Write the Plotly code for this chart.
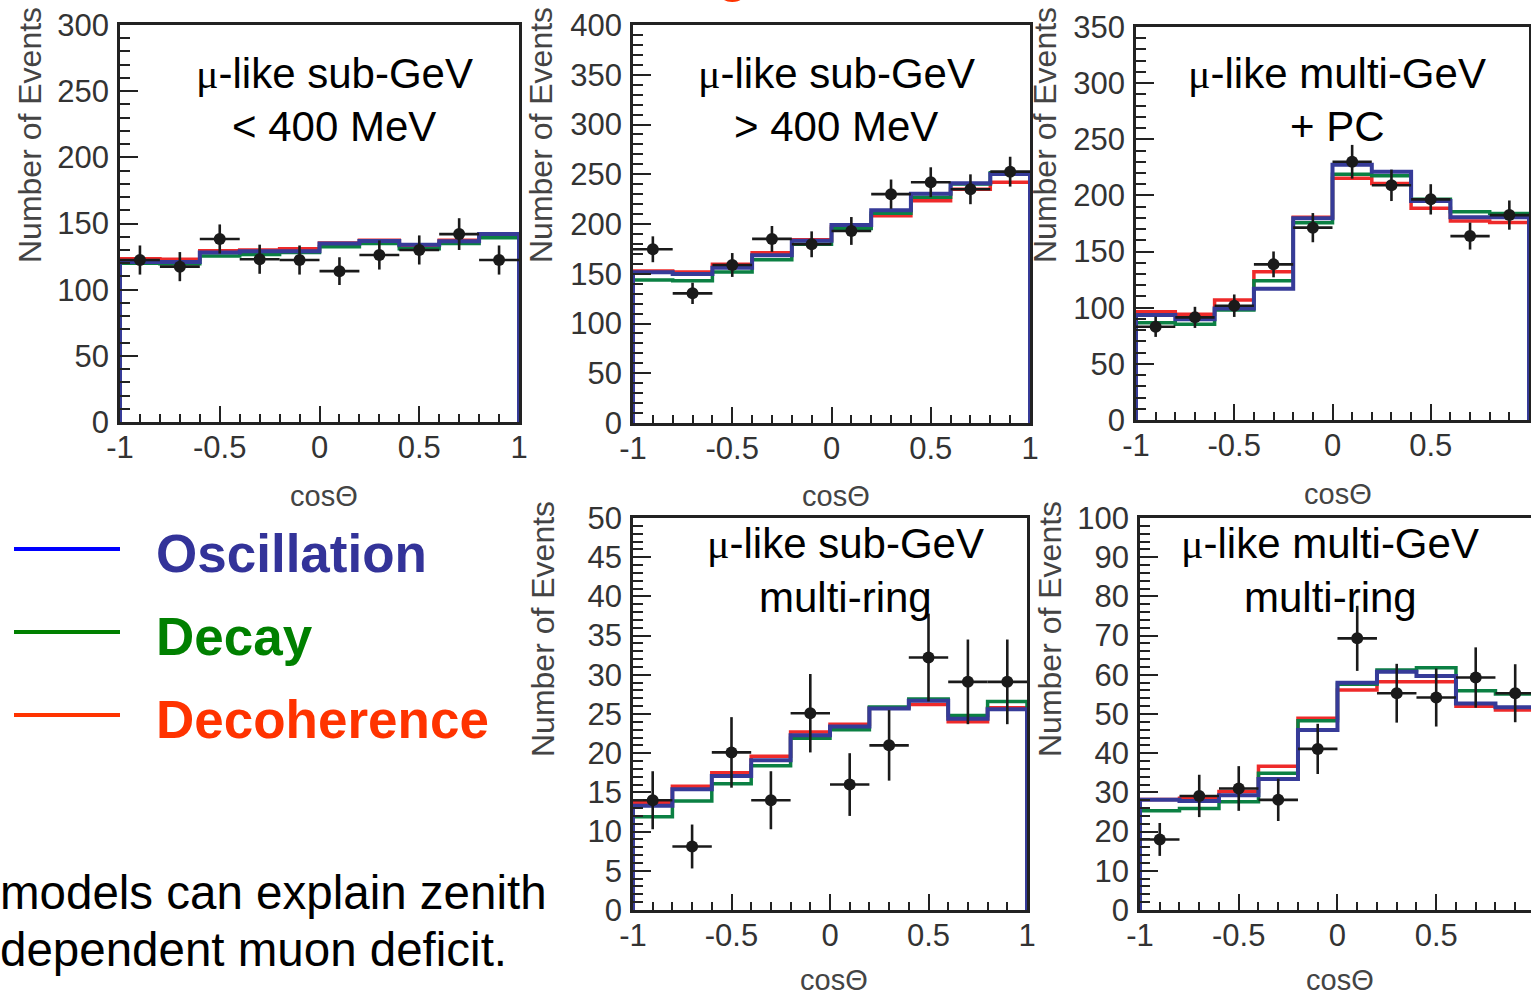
import plotly.graph_objects as go

W, H = 1531, 998

# ---------------- data ----------------
bin_edges = [-1.0, -0.8, -0.6, -0.4, -0.2, 0.0, 0.2, 0.4, 0.6, 0.8, 1.0]
bin_centers = [-0.9, -0.7, -0.5, -0.3, -0.1, 0.1, 0.3, 0.5, 0.7, 0.9]
bin_halfwidth = [0.1] * 10

# panel 1: mu-like sub-GeV < 400 MeV
p1_osc = [121, 121, 128, 129, 129, 134.8, 136.8, 134, 136.6, 142]
p1_dec = [120, 119.5, 125.5, 126.5, 128, 132.5, 134.8, 131, 134.8, 139.3]
p1_dcoh = [123.4, 123, 129.5, 130, 131, 135.3, 137.3, 133, 137.3, 141.8]
p1_data = [122.4, 117.4, 138.3, 123, 122.4, 114, 126.2, 130, 142, 122.4]
p1_err = [11, 11, 11, 11, 11, 10.5, 11, 11, 12, 11]

# panel 2: mu-like sub-GeV > 400 MeV
p2_osc = [151.5, 149.7, 156, 168.5, 183.2, 199, 213.8, 230.5, 240.9, 250.3]
p2_dec = [143.7, 143, 151.8, 164, 179.6, 195.6, 210.7, 226.8, 240.2, 251.6]
p2_dcoh = [152.8, 151.8, 159.5, 171, 184.2, 197.3, 208.4, 223.4, 234.8, 241.9]
p2_data = [174.6, 130.3, 158.8, 185, 179.6, 193, 230, 242, 234.9, 252.6]
p2_err = [13, 10.7, 12, 13, 13, 14, 14.7, 15, 15, 15]

# panel 3: mu-like multi-GeV + PC
p3_osc = [93.5, 89.7, 99.4, 117, 179.6, 227.4, 221.1, 195, 180.5, 180.5]
p3_dec = [86.7, 85.2, 98, 124, 175.7, 218.8, 217.6, 196.5, 185.5, 184]
p3_dcoh = [96.5, 94.1, 106.9, 132, 180.5, 215.2, 210.7, 188.5, 177.2, 176]
p3_data = [83, 91.4, 101.8, 138.6, 171.3, 230, 209, 196.5, 163.8, 182.5]
p3_err = [9, 9.4, 10, 11.5, 13, 15, 14, 13.5, 12, 13]

# panel 4: mu-like sub-GeV multi-ring
p4_osc = [13.3, 15.4, 17.1, 19.1, 22.3, 23.4, 25.7, 26.7, 24.4, 25.6]
p4_dec = [11.9, 13.9, 16.1, 18.4, 21.9, 23.0, 25.9, 26.9, 24.8, 26.6]
p4_dcoh = [13.7, 15.8, 17.5, 19.6, 22.7, 23.7, 25.8, 26.2, 24.0, 25.8]
p4_data = [14.0, 8.1, 20.1, 14.0, 25.1, 16.0, 21.0, 32.2, 29.1, 29.1]
p4_err = [3.7, 2.8, 4.5, 3.7, 5.0, 4.0, 4.5, 5.6, 5.4, 5.4]

# panel 5: mu-like multi-GeV multi-ring
p5_osc = [28.1, 27.8, 29.3, 33.4, 45.9, 58.0, 60.8, 59.7, 52.7, 51.7]
p5_dec = [25.3, 25.9, 27.6, 34.9, 48.3, 57.6, 61.2, 61.8, 55.9, 55.1]
p5_dcoh = [28.2, 28.5, 30.2, 36.7, 48.9, 56.1, 58.2, 58.2, 52.0, 51.0]
p5_data = [18.0, 29.1, 31.0, 28.1, 41.1, 69.3, 55.3, 54.2, 59.3, 55.3]
p5_err = [4.2, 5.4, 5.7, 5.4, 6.4, 8.3, 7.5, 7.4, 7.7, 7.4]

x_tickvals = [-1, -0.5, 0, 0.5, 1]
x_ticktext = ["-1", "-0.5", "0", "0.5", "1"]

titles_line1 = ["μ-like sub-GeV", "μ-like sub-GeV", "μ-like multi-GeV",
                "μ-like sub-GeV", "μ-like multi-GeV"]
titles_line2 = ["< 400 MeV", "> 400 MeV", "+ PC", "multi-ring", "multi-ring"]

legend_names = ["Oscillation", "Decay", "Decoherence"]
note_lines = ["models can explain zenith", "dependent muon deficit."]

# ---------------- style ----------------
HIST_COLORS = {"dcoh": "#ee2a2a", "dec": "#0b8043", "osc": "#363b98"}
LEG_LINE = ["#0000ff", "#008000", "#ff3300"]
LEG_TEXT = ["#333399", "#008000", "#ff3300"]
TICKFONT = dict(family="Liberation Sans, Arial, sans-serif", size=31, color="#333333")
TITLEFONT = dict(family="Liberation Sans Narrow, Liberation Sans, Arial, sans-serif", size=42, color="#000000")


def px_x(p):
    return p / W


def px_y(p):
    return 1 - p / H


# pixel boxes: (left, right, top, bottom)
panels = [
    dict(box=(120, 519, 25, 422), ymax=300, dtick=50, minor=10,
         osc=p1_osc, dec=p1_dec, dcoh=p1_dcoh, data=p1_data, err=p1_err,
         title_c=(334, 73, 126), ylab=(30, 135), xlab=(324, 496), xr=[-1, 1], ymirror=True),
    dict(box=(633, 1030, 25, 423), ymax=400, dtick=50, minor=10,
         osc=p2_osc, dec=p2_dec, dcoh=p2_dcoh, data=p2_data, err=p2_err,
         title_c=(836, 73, 126), ylab=(541, 135), xlab=(836, 496), xr=[-1, 1], ymirror=True),
    dict(box=(1136, 1529, 27, 420), ymax=350, dtick=50, minor=10,
         osc=p3_osc, dec=p3_dec, dcoh=p3_dcoh, data=p3_data, err=p3_err,
         title_c=(1337, 73, 126), ylab=(1045, 135), xlab=(1338, 494), xr=[-1, 1], ymirror=True),
    dict(box=(633, 1027, 518, 910), ymax=50, dtick=5, minor=1,
         osc=p4_osc, dec=p4_dec, dcoh=p4_dcoh, data=p4_data, err=p4_err,
         title_c=(846, 543, 597), ylab=(543, 629), xlab=(834, 980), xr=[-1, 1], ymirror=True),
    dict(box=(1140, 1531, 518, 910), ymax=100, dtick=10, minor=2,
         osc=p5_osc, dec=p5_dec, dcoh=p5_dcoh, data=p5_data, err=p5_err,
         title_c=(1330, 543, 597), ylab=(1050, 629), xlab=(1340, 980), xr=[-1, 0.98], ymirror=False),
]

fig = go.Figure()


def step_xy(values):
    xs = [bin_edges[0]] + bin_edges[:-1] + [bin_edges[-1], bin_edges[-1]]
    ys = [0] + list(values) + [values[-1], 0]
    return xs, ys


annotations = []
for i, p in enumerate(panels):
    n = i + 1
    xa = "x" if n == 1 else f"x{n}"
    ya = "y" if n == 1 else f"y{n}"
    for key, width in (("dcoh", 3.5), ("dec", 3.5), ("osc", 4)):
        xs, ys = step_xy(p[key])
        fig.add_trace(go.Scatter(x=xs, y=ys, mode="lines", line_shape="hv",
                                 line=dict(color=HIST_COLORS[key], width=width),
                                 xaxis=xa, yaxis=ya, showlegend=False, hoverinfo="skip"))
    fig.add_trace(go.Scatter(
        x=bin_centers, y=p["data"], mode="markers",
        marker=dict(color="#1a1a1a", size=12),
        error_y=dict(type="data", array=p["err"], width=0, thickness=2.6, color="#1a1a1a"),
        error_x=dict(type="data", array=bin_halfwidth, width=0, thickness=2.6, color="#1a1a1a"),
        xaxis=xa, yaxis=ya, showlegend=False))

    l, r, t, b = p["box"]
    axis_common = dict(showgrid=False, zeroline=False, showline=True, linecolor="#222222",
                       linewidth=2.5, ticks="inside", tickcolor="#222222", tickwidth=1.5,
                       tickfont=TICKFONT, automargin=False)
    fig.layout[f"xaxis{'' if n == 1 else n}"] = dict(
        axis_common, domain=[px_x(l), min(1.0, px_x(r))], range=p["xr"], anchor=ya,
        tickvals=x_tickvals, ticktext=x_ticktext, ticklen=16, mirror=True,
        minor=dict(tick0=-1, dtick=0.1, ticks="inside", ticklen=8, tickcolor="#222222", tickwidth=1.5),
        ticklabelstandoff=-4)
    fig.layout[f"yaxis{'' if n == 1 else n}"] = dict(
        axis_common, domain=[px_y(b), px_y(t)], range=[0, p["ymax"]], anchor=xa,
        tick0=0, dtick=p["dtick"], ticklen=18, mirror=p["ymirror"],
        minor=dict(tick0=0, dtick=p["minor"], ticks="inside", ticklen=10, tickcolor="#222222", tickwidth=1.5),
        ticklabelstandoff=2)

    cx, y1, y2 = p["title_c"]
    t1 = titles_line1[i].replace("μ", '<span style="font-family:Liberation Serif">μ</span>')
    annotations.append(dict(x=px_x(cx), y=px_y(y1), xref="paper", yref="paper", text=t1,
                            showarrow=False, font=TITLEFONT, xanchor="center", yanchor="middle"))
    annotations.append(dict(x=px_x(cx), y=px_y(y2), xref="paper", yref="paper", text=titles_line2[i],
                            showarrow=False, font=TITLEFONT, xanchor="center", yanchor="middle"))
    annotations.append(dict(x=px_x(p["ylab"][0]), y=px_y(p["ylab"][1]), xref="paper", yref="paper",
                            text="Number of Events", textangle=-90, showarrow=False,
                            font=dict(family="Liberation Sans, Arial", size=32, color="#444444"),
                            xanchor="center", yanchor="middle"))
    annotations.append(dict(x=px_x(p["xlab"][0]), y=px_y(p["xlab"][1]), xref="paper", yref="paper",
                            text="cosΘ", showarrow=False,
                            font=dict(family="Liberation Sans, Arial", size=29, color="#444444"),
                            xanchor="center", yanchor="middle"))

# legend (lines + labels)
shapes = []
leg_y = [549, 632, 715]
for name, lc, tc, yy in zip(legend_names, LEG_LINE, LEG_TEXT, leg_y):
    shapes.append(dict(type="line", xref="paper", yref="paper", x0=px_x(14), x1=px_x(120),
                       y0=px_y(yy), y1=px_y(yy), line=dict(color=lc, width=4)))
    annotations.append(dict(x=px_x(154), y=px_y(yy + 4), xref="paper", yref="paper", text=f"<b>{name}</b>",
                            showarrow=False, xanchor="left", yanchor="middle",
                            font=dict(family="Liberation Sans, Arial", size=53, color=tc)))

for line, yy in zip(note_lines, [892, 949]):
    annotations.append(dict(x=px_x(-2), y=px_y(yy), xref="paper", yref="paper", text=line,
                            showarrow=False, xanchor="left", yanchor="middle",
                            font=dict(family="Liberation Sans, Arial", size=47.5, color="#000000")))

# clipped slide-title fragment at the very top
annotations.append(dict(x=px_x(733), y=px_y(4), xref="paper", yref="paper", text="<b>g</b>",
                        showarrow=False, xanchor="center", yanchor="bottom",
                        font=dict(family="Liberation Sans, Arial", size=52, color="#ff3300")))

fig.update_layout(width=W, height=H, margin=dict(l=0, r=0, t=0, b=0, autoexpand=False),
                  paper_bgcolor="white", plot_bgcolor="white",
                  annotations=annotations, shapes=shapes, showlegend=False)

fig.write_html("out.html")
